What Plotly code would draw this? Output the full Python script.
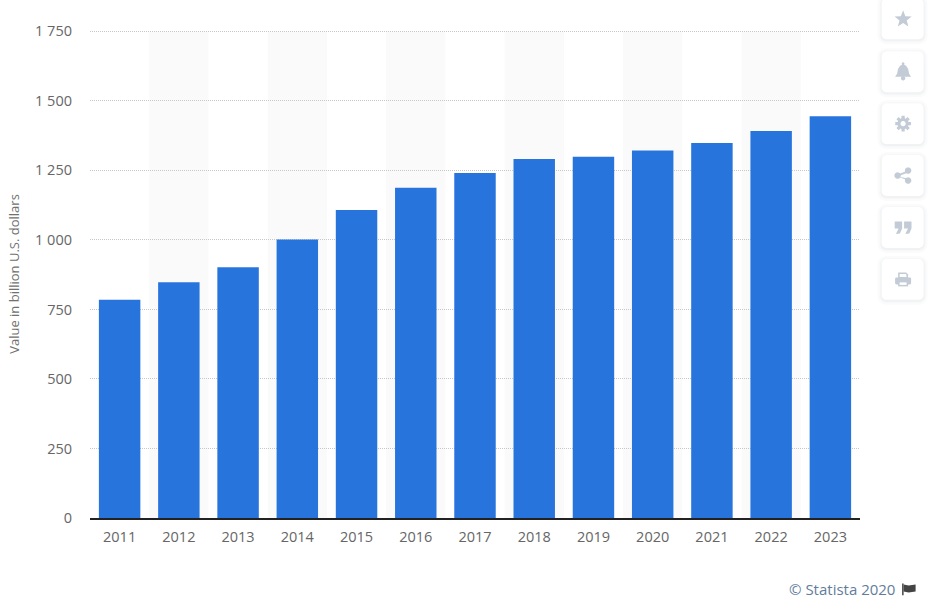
import math

import plotly.graph_objects as go

years = ["2011", "2012", "2013", "2014", "2015", "2016", "2017", "2018", "2019", "2020", "2021", "2022", "2023"]
values = [785, 848, 902, 1002, 1108, 1188, 1241, 1291, 1299, 1322, 1349, 1392, 1445]
y_ticks = [0, 250, 500, 750, 1000, 1250, 1500, 1750]

BAR = "#2874dd"
ICON = "#c3cbd6"
W, H = 936, 609
L, R, T, B = 90.4, 860.4, 29.7, 518.5
Y_MAX = 1755  # a bit over the last tick, plotly drops a gridline sitting right on the edge


def px(x):
    return (x - L) / (R - L)


def py(y):
    return (B - y) / (B - T)


def poly(points, color, layer="above"):
    d = "M" + " L".join(f"{px(x):.5f},{py(y):.5f}" for x, y in points) + " Z"
    return dict(type="path", xref="paper", yref="paper", path=d,
                fillcolor=color, line=dict(width=0), layer=layer)


def circle(cx, cy, r, color):
    pts = [(cx + r * math.cos(i * math.pi / 16), cy + r * math.sin(i * math.pi / 16)) for i in range(32)]
    return poly(pts, color)


def rounded(x0, y0, x1, y1, r, color):
    pts = []
    corners = [(x1 - r, y0 + r, -90), (x1 - r, y1 - r, 0), (x0 + r, y1 - r, 90), (x0 + r, y0 + r, 180)]
    for cx, cy, start in corners:
        for k in range(7):
            a = math.radians(start + k * 15)
            pts.append((cx + r * math.cos(a), cy + r * math.sin(a)))
    return poly(pts, color)


def star(cx, cy, r):
    pts = []
    for i in range(10):
        rad = r if i % 2 == 0 else r * 0.42
        a = math.radians(-90 + i * 36)
        pts.append((cx + rad * math.cos(a), cy + rad * math.sin(a)))
    return [poly(pts, ICON)]


def bell(cx, cy):
    pts = [(cx - 8, cy + 5), (cx - 6, cy + 2), (cx - 5, cy - 3), (cx - 3, cy - 6), (cx, cy - 7.5),
           (cx + 3, cy - 6), (cx + 5, cy - 3), (cx + 6, cy + 2), (cx + 8, cy + 5)]
    return [poly(pts, ICON), circle(cx, cy + 6.5, 2.2, ICON), circle(cx, cy - 8, 1.4, ICON)]


def gear(cx, cy):
    pts = []
    for i in range(8):
        a = i * math.pi / 4
        for off, rad in [(-0.3, 5.6), (-0.2, 8), (0.2, 8), (0.3, 5.6)]:
            pts.append((cx + rad * math.cos(a + off), cy + rad * math.sin(a + off)))
    return [poly(pts, ICON), circle(cx, cy, 2.6, "white")]


def share(cx, cy):
    left, top, bot = (cx - 5.5, cy), (cx + 5, cy - 5), (cx + 5, cy + 5)
    shapes = [circle(*left, 3.2, ICON), circle(*top, 3.2, ICON), circle(*bot, 3.2, ICON)]
    shapes.append(poly([(left[0], left[1] - 1), top, (top[0], top[1] + 2), (left[0], left[1] + 1), (bot[0], bot[1] - 2), bot,
                        (left[0], left[1] + 1)], ICON))
    return shapes


def quotes(cx, cy):
    shapes = []
    for dx in (-4.7, 4.7):
        x = cx + dx
        shapes.append(poly([(x - 3.7, cy - 6), (x + 3.7, cy - 6), (x + 3.7, cy + 1), (x + 1.5, cy + 6), (x - 2.5, cy + 6.5),
                            (x - 1, cy + 3.5), (x + 0.2, cy + 1), (x - 3.7, cy + 1)], ICON))
    return shapes


def printer(cx, cy):
    return [
        rounded(cx - 8, cy - 2, cx + 8, cy + 5, 1.5, ICON),
        poly([(cx - 5, cy - 7), (cx + 3, cy - 7), (cx + 5, cy - 5), (cx + 5, cy - 1), (cx - 5, cy - 1)], ICON),
        poly([(cx - 3.5, cy - 5.5), (cx + 3, cy - 5.5), (cx + 3.5, cy - 2.5), (cx - 3.5, cy - 2.5)], "white"),
        poly([(cx - 5, cy + 2), (cx + 5, cy + 2), (cx + 5, cy + 7), (cx - 5, cy + 7)], ICON),
        poly([(cx - 3.5, cy + 3), (cx + 3.5, cy + 3), (cx + 3.5, cy + 5.5), (cx - 3.5, cy + 5.5)], "white"),
    ]


fig = go.Figure()

fig.add_trace(
    go.Bar(
        x=years,
        y=values,
        marker=dict(color=BAR, line=dict(width=0)),
        width=0.7,
        hovertemplate="%{x}<br>%{y:,.0f}<extra></extra>",
    )
)

shapes = []

# alternating bands behind the bars
for i in range(1, len(years), 2):
    shapes.append(dict(type="rect", xref="x", yref="y", x0=i - 0.5, x1=i + 0.5, y0=0, y1=y_ticks[-1],
                       fillcolor="#fafafa", line=dict(width=0), layer="below"))

# sidebar buttons
card_tops = [-2, 51, 103, 155, 207, 259]
icons = [lambda x, y: star(x, y, 9), bell, gear, share, quotes, printer]
for top, icon in zip(card_tops, icons):
    for grow, col in [(4, "#fbfbfc"), (2, "#f6f7f8"), (1, "#f1f2f4")]:
        shapes.append(rounded(882 - grow, top - grow + 1, 924 + grow, top + 41 + grow + 1, 5 + grow, col))
    shapes.append(rounded(882, top, 924, top + 41, 5, "white"))
    shapes.extend(icon(903.5, max(top, 0) + (19 if top < 0 else 20.5)))

# flag next to the credit
shapes.append(poly([(902.5, 584), (904, 584), (904, 596), (902.5, 596)], "#444444"))
shapes.append(poly([(904, 585), (909, 586), (916, 585), (916, 592), (909, 593), (904, 592)], "#444444"))

fig.update_layout(
    width=W,
    height=H,
    autosize=False,
    showlegend=False,
    paper_bgcolor="white",
    plot_bgcolor="white",
    margin=dict(l=L, r=W - R, t=T, b=H - B, autoexpand=False),
    font=dict(family="Open Sans", color="#666666", size=14),
    separators=". ",
    shapes=shapes,
    xaxis=dict(
        type="category",
        categoryorder="array",
        categoryarray=years,
        range=[-0.5, len(years) - 0.5],
        showgrid=False,
        ticks="",
        showline=True,
        linecolor="#222222",
        linewidth=1.5,
        tickfont=dict(size=14.5, color="#666666"),
        ticklabelstandoff=5,
    ),
    yaxis=dict(
        range=[0, Y_MAX],
        tickvals=y_ticks,
        tickformat=",d",
        showline=False,
        ticks="",
        gridcolor="#c8c8c8",
        griddash="1px,1px",
        gridwidth=1,
        zeroline=False,
        tickfont=dict(size=14.5, color="#666666"),
        ticklabelstandoff=17,
        title=dict(text="Value in billion U.S. dollars", font=dict(size=13, color="#707070"), standoff=12),
    ),
    annotations=[
        dict(text="© Statista 2020", xref="paper", yref="paper", x=px(897), y=py(590),
             xanchor="right", yanchor="middle", showarrow=False,
             font=dict(family="Open Sans", size=15, color="#5f7d9c")),
    ],
)

# page margin would push the fixed-size figure 8px off
fig.write_html(
    "out.html",
    config=dict(displayModeBar=False),
    post_script="document.body.style.margin='0';document.body.style.overflow='hidden';",
)
